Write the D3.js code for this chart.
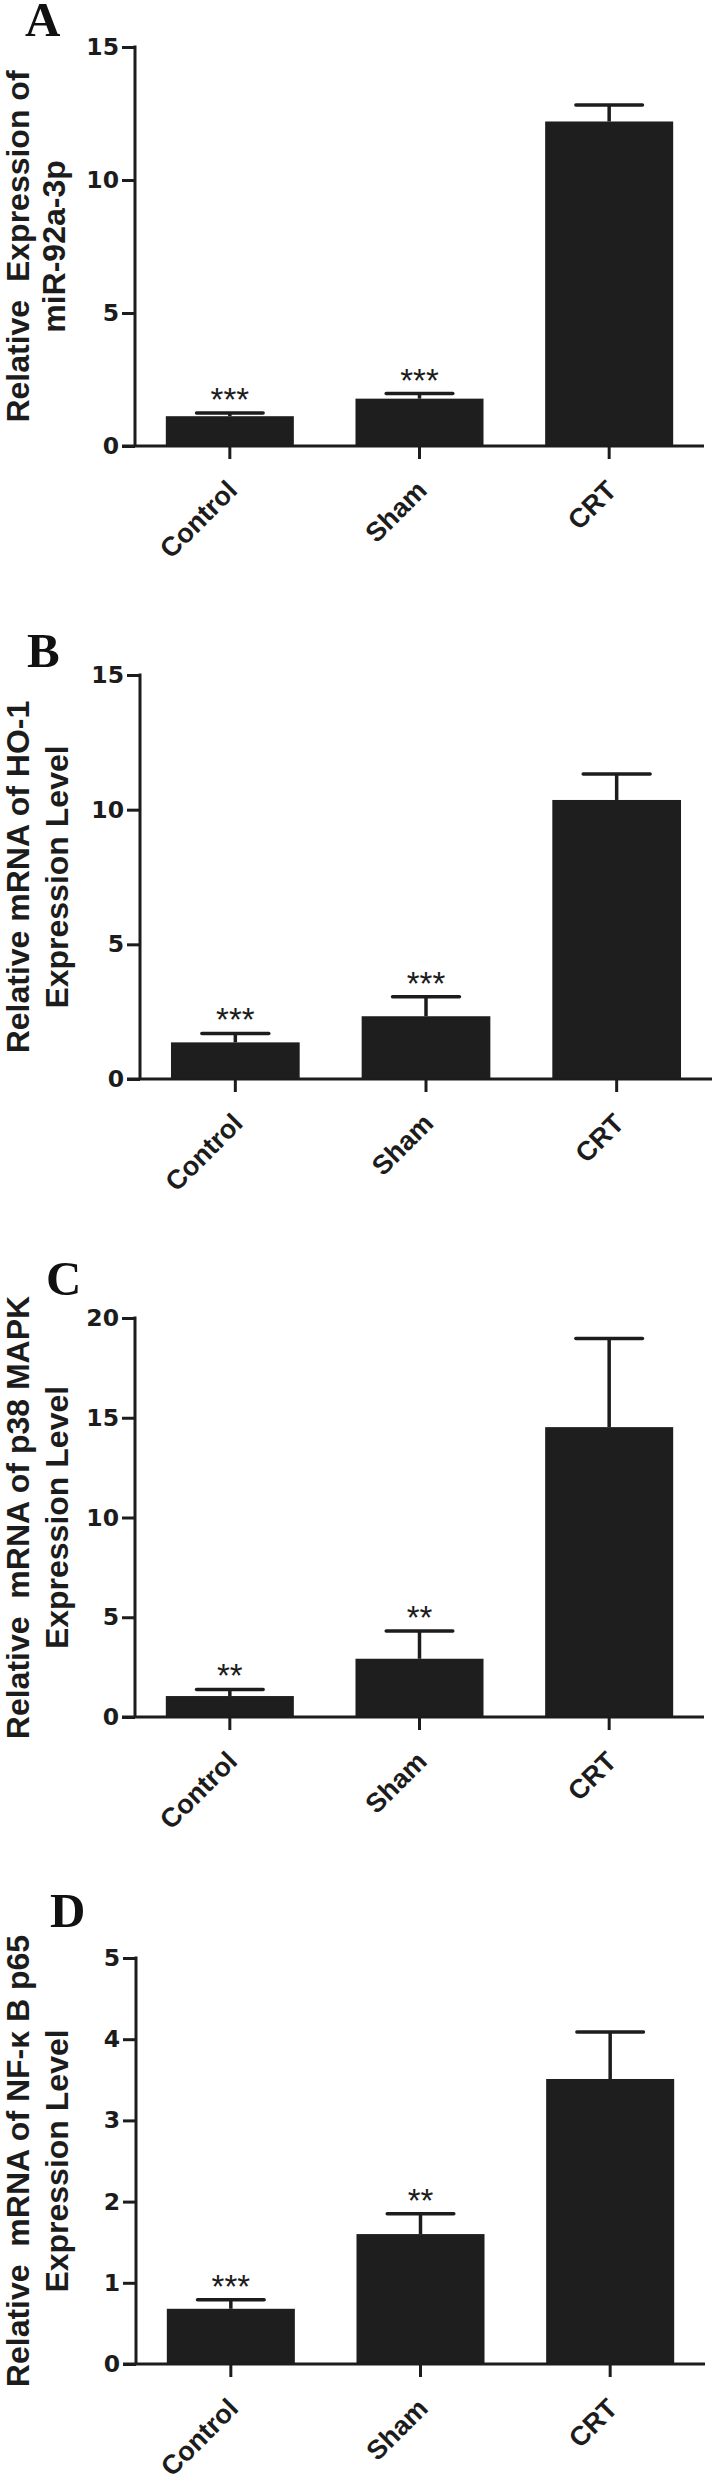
<!DOCTYPE html>
<html>
<head>
<meta charset="utf-8">
<script src="https://cdn.jsdelivr.net/npm/d3@7"></script>
<style>
  body { margin: 0; background: #fff; }
  svg { display: block; }
</style>
</head>
<body>
<div id="chart"></div>
<script>
// groups on the x axis (same in every panel)
const groups = ['Control', 'Sham', 'CRT']

// A: miR-92a-3p
const mirMean = [1.12, 1.78, 12.2]
const mirErr = [0.12, 0.19, 0.62]
const mirStars = ['***', '***', '']
const mirTicks = [0, 5, 10, 15]

// B: HO-1
const ho1Mean = [1.36, 2.33, 10.36]
const ho1Err = [0.33, 0.72, 0.96]
const ho1Stars = ['***', '***', '']
const ho1Ticks = [0, 5, 10, 15]

// C: p38 MAPK
const p38Mean = [1.05, 2.92, 14.53]
const p38Err = [0.33, 1.39, 4.44]
const p38Stars = ['**', '**', '']
const p38Ticks = [0, 5, 10, 15, 20]

// D: NF-kB p65
const p65Mean = [0.68, 1.60, 3.51]
const p65Err = [0.11, 0.25, 0.58]
const p65Stars = ['***', '**', '']
const p65Ticks = [0, 1, 2, 3, 4, 5]

const width = 716
const height = 2481
const ink = '#1c1c1c'

var svg = d3.select('#chart')
  .append('svg')
    .attr('width', width)
    .attr('height', height)

svg.append('rect').attr('width', width).attr('height', height).attr('fill', '#fff')

// panel frames (pixel layout only)
var panels = [
  {letter: 'A', lx: 25, ly: 36, top: 47, base: 446, x0: 135, x1: 704,
   mean: mirMean, err: mirErr, stars: mirStars, ticks: mirTicks,
   label: ['Relative  Expression of', 'miR-92a-3p'], lab1: 18, lab2: 54},
  {letter: 'B', lx: 27, ly: 667, top: 675, base: 1079, x0: 140, x1: 712,
   mean: ho1Mean, err: ho1Err, stars: ho1Stars, ticks: ho1Ticks,
   label: ['Relative mRNA of HO-1', 'Expression Level'], lab1: 18, lab2: 57},
  {letter: 'C', lx: 46, ly: 1295, top: 1318, base: 1717, x0: 135, x1: 704,
   mean: p38Mean, err: p38Err, stars: p38Stars, ticks: p38Ticks,
   label: ['Relative  mRNA of p38 MAPK', 'Expression Level'], lab1: 18, lab2: 57},
  {letter: 'D', lx: 50, ly: 1927, top: 1958, base: 2364, x0: 136, x1: 705,
   mean: p65Mean, err: p65Err, stars: p65Stars, ticks: p65Ticks,
   label: ['Relative  mRNA of NF-\u03ba B p65', 'Expression Level'], lab1: 18, lab2: 57}
]

panels.forEach(p => drawPanel(p))

function drawPanel(p) {
  var g = svg.append('g')

  var x = d3.scaleBand()
    .domain(groups)
    .range([p.x0, p.x1])
    .paddingInner(0.325)
    .paddingOuter(0.1625)

  var y = d3.scaleLinear()
    .domain([0, d3.max(p.ticks)])
    .range([p.base, p.top])

  // panel letter
  g.append('text')
    .attr('x', p.lx)
    .attr('y', p.ly)
    .style('font-family', '"Liberation Serif", "Times New Roman", serif')
    .style('font-weight', 'bold')
    .style('font-size', '49px')
    .attr('fill', '#111')
    .text(p.letter)

  // bars
  g.selectAll('rect.bar')
    .data(p.mean)
    .enter()
    .append('rect')
    .attr('class', 'bar')
    .attr('x', (d, i) => x(groups[i]))
    .attr('width', x.bandwidth())
    .attr('y', d => y(d))
    .attr('height', d => p.base - y(d))
    .attr('fill', '#1e1e1e')

  // upper error bars
  var capW = x.bandwidth() * 0.52
  p.mean.forEach((m, i) => {
    var cx = x(groups[i]) + x.bandwidth() / 2
    g.append('line')
      .attr('x1', cx).attr('x2', cx)
      .attr('y1', y(m)).attr('y2', y(m + p.err[i]))
      .attr('stroke', ink).attr('stroke-width', 3.5)
    g.append('line')
      .attr('x1', cx - capW / 2).attr('x2', cx + capW / 2)
      .attr('y1', y(m + p.err[i])).attr('y2', y(m + p.err[i]))
      .attr('stroke', ink).attr('stroke-width', 3.5)
      .attr('stroke-linecap', 'round')
    if (p.stars[i]) {
      g.append('text')
        .attr('x', cx)
        .attr('y', y(m + p.err[i]) - 2)
        .attr('text-anchor', 'middle')
        .style('font-family', '"Liberation Sans", Arial, sans-serif')
        .style('font-size', '33px')
        .attr('fill', ink)
        .text(p.stars[i])
    }
  })

  // y axis
  var yAxis = d3.axisLeft(y)
    .tickValues(p.ticks)
    .tickSize(13)
    .tickPadding(3)
    .tickSizeOuter(0)
    .tickFormat(d3.format('d'))

  var ya = g.append('g')
    .attr('transform', `translate(${p.x0},0)`)
    .call(yAxis)
  ya.select('.domain').remove()
  ya.selectAll('line').attr('stroke', ink).attr('stroke-width', 3)
  ya.selectAll('text')
    .attr('fill', ink)
    .style('font-family', '"DejaVu Sans", sans-serif')
    .style('font-weight', 'bold')
    .style('font-size', '23.5px')

  g.append('line')
    .attr('x1', p.x0).attr('x2', p.x0)
    .attr('y1', p.top - 1.5).attr('y2', p.base)
    .attr('stroke', ink).attr('stroke-width', 3)

  // x axis
  var xAxis = d3.axisBottom(x)
    .tickSize(13)
    .tickSizeOuter(0)
    .tickFormat('')

  var xa = g.append('g')
    .attr('transform', `translate(0,${p.base})`)
    .call(xAxis)
  xa.select('.domain').remove()
  xa.selectAll('line').attr('stroke', ink).attr('stroke-width', 3)

  g.append('line')
    .attr('x1', p.x0 - 13).attr('x2', p.x1)
    .attr('y1', p.base).attr('y2', p.base)
    .attr('stroke', ink).attr('stroke-width', 3)

  // rotated group names
  g.selectAll('text.grp')
    .data(groups)
    .enter()
    .append('text')
    .attr('class', 'grp')
    .attr('transform', d => `translate(${x(d) + x.bandwidth() / 2 + 9},${p.base + 46}) rotate(-45)`)
    .attr('text-anchor', 'end')
    .style('font-family', '"Liberation Sans", Arial, sans-serif')
    .style('font-weight', 'bold')
    .style('font-size', '27px')
    .attr('fill', ink)
    .text(d => d)

  // y label, two lines
  var midY = (p.top + p.base) / 2
  ;[p.lab1, p.lab2].forEach((lx, k) => {
    g.append('text')
      .attr('transform', `translate(${lx},${midY}) rotate(-90)`)
      .attr('text-anchor', 'middle')
      .attr('dy', '0.35em')
      .style('font-family', '"Liberation Sans", Arial, sans-serif')
      .style('font-weight', 'bold')
      .style('font-size', '32px')
      .style('white-space', 'pre')
      .attr('fill', ink)
      .text(p.label[k])
  })
}
</script>
</body>
</html>
